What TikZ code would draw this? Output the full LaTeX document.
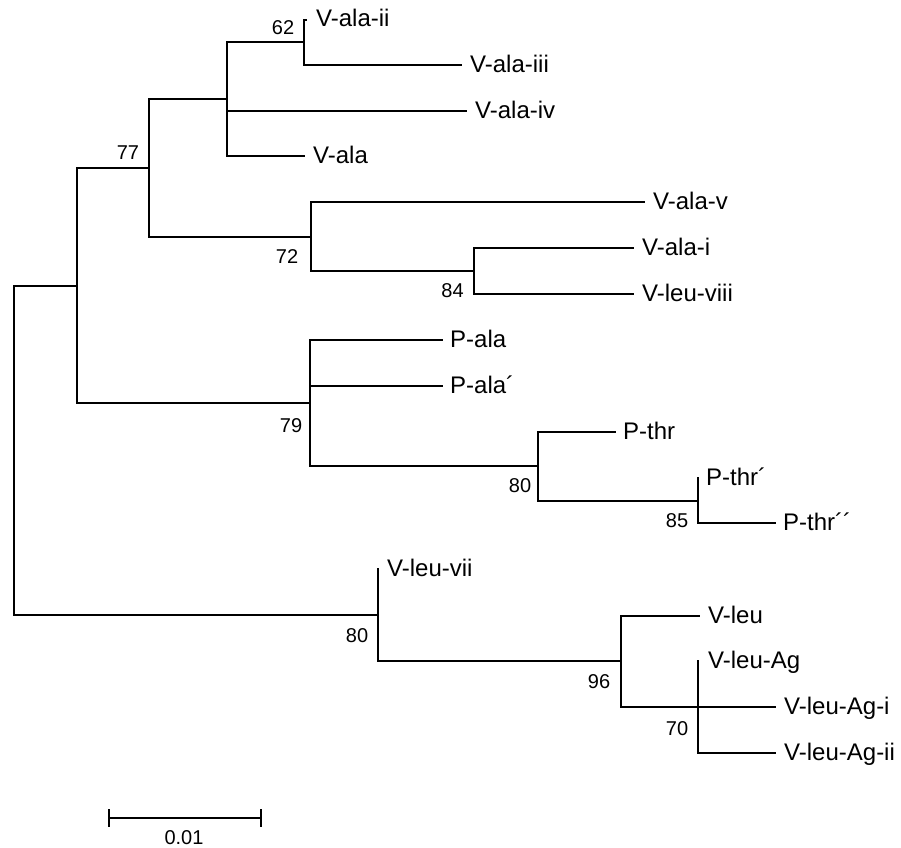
\documentclass[tikz,border=0pt]{standalone}
\usepackage{fontspec}
\setmainfont{Liberation Sans}
\begin{document}
\begin{tikzpicture}[x=1pt,y=-1pt,
  branch/.style={line width=1.7pt, line cap=rect, line join=miter},
  leaflabel/.style={anchor=base west, inner sep=0pt, font=\fontsize{24}{28}\selectfont},
  boot/.style={anchor=center, inner sep=0pt, font=\fontsize{20}{24}\selectfont}]
\useasboundingbox (0,0) rectangle (901,847);
% internal nodes
\coordinate (root) at (14,450);
\coordinate (nA) at (77,286);
\coordinate (n77) at (149,168);
\coordinate (nB) at (227,99);
\coordinate (n62) at (304,42);
\coordinate (n72) at (311,237);
\coordinate (n84) at (474,271);
\coordinate (n79) at (310,403);
\coordinate (n80a) at (538,466);
\coordinate (n85) at (698,501);
\coordinate (n80b) at (378,615);
\coordinate (n96) at (621,661);
\coordinate (n70) at (698,707);
% leaf ends
\coordinate (l1) at (306,20);
\coordinate (l2) at (461,65);
\coordinate (l3) at (466,111);
\coordinate (l4) at (304,156);
\coordinate (l5) at (644,202);
\coordinate (l6) at (633,248);
\coordinate (l7) at (633,294);
\coordinate (l8) at (442,340);
\coordinate (l9) at (442,386);
\coordinate (l10) at (615,432);
\coordinate (l11) at (698,478);
\coordinate (l12) at (775,523);
\coordinate (l13) at (378,569);
\coordinate (l14) at (699,616);
\coordinate (l15) at (698,661);
\coordinate (l16) at (775,707);
\coordinate (l17) at (775,753);
% branches
\draw[branch] (root) |- (nA);
\draw[branch] (root) |- (n80b);
\draw[branch] (nA) |- (n77);
\draw[branch] (nA) |- (n79);
\draw[branch] (n77) |- (nB);
\draw[branch] (n77) |- (n72);
\draw[branch] (nB) |- (n62);
\draw[branch] (nB) |- (l3);
\draw[branch] (nB) |- (l4);
\draw[branch] (n62) |- (l1);
\draw[branch] (n62) |- (l2);
\draw[branch] (n72) |- (l5);
\draw[branch] (n72) |- (n84);
\draw[branch] (n84) |- (l6);
\draw[branch] (n84) |- (l7);
\draw[branch] (n79) |- (l8);
\draw[branch] (n79) |- (l9);
\draw[branch] (n79) |- (n80a);
\draw[branch] (n80a) |- (l10);
\draw[branch] (n80a) |- (n85);
\draw[branch] (n85) |- (l11);
\draw[branch] (n85) |- (l12);
\draw[branch] (n80b) |- (l13);
\draw[branch] (n80b) |- (n96);
\draw[branch] (n96) |- (l14);
\draw[branch] (n96) |- (n70);
\draw[branch] (n70) |- (l15);
\draw[branch] (n70) -- (l16);
\draw[branch] (n70) |- (l17);
% leaf labels
\node[leaflabel] (t1) at (316,26) {V-ala-ii};
\node[leaflabel] (t2) at (470,72) {V-ala-iii};
\node[leaflabel] (t3) at (475,118) {V-ala-iv};
\node[leaflabel] (t4) at (313,163) {V-ala};
\node[leaflabel] (t5) at (653,209) {V-ala-v};
\node[leaflabel] (t6) at (642,255) {V-ala-i};
\node[leaflabel] (t7) at (642,301) {V-leu-viii};
\node[leaflabel] (t8) at (450,347) {P-ala};
\node[leaflabel] (t9) at (450,393) {P-ala´};
\node[leaflabel] (t10) at (623,439) {P-thr};
\node[leaflabel] (t11) at (706,485) {P-thr´};
\node[leaflabel] (t12) at (783,530) {P-thr´´};
\node[leaflabel] (t13) at (387,576) {V-leu-vii};
\node[leaflabel] (t14) at (708,623) {V-leu};
\node[leaflabel] (t15) at (708,668) {V-leu-Ag};
\node[leaflabel] (t16) at (784,714) {V-leu-Ag-i};
\node[leaflabel] (t17) at (784,760) {V-leu-Ag-ii};
% bootstrap values
\node[boot] (b62) at (283,28) {62};
\node[boot] (b77) at (128,153) {77};
\node[boot] (b72) at (287,257) {72};
\node[boot] (b84) at (452.5,291) {84};
\node[boot] (b79) at (291,426) {79};
\node[boot] (b80a) at (520,486) {80};
\node[boot] (b85) at (677,521) {85};
\node[boot] (b80b) at (357,636) {80};
\node[boot] (b96) at (599,682) {96};
\node[boot] (b70) at (677,729) {70};
% scale bar
\coordinate (sL) at (109,818);
\coordinate (sR) at (261,818);
\draw[branch] (sL) -- (sR);
\draw[branch] ([yshift=-8.5]sL) -- ([yshift=8.5]sL);
\draw[branch] ([yshift=-8.5]sR) -- ([yshift=8.5]sR);
\node[boot] (sc) at (184,837.5) {0.01};
\end{tikzpicture}
\end{document}
